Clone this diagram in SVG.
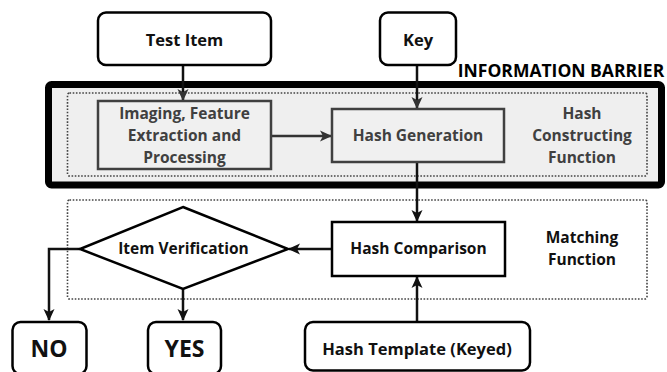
<svg xmlns="http://www.w3.org/2000/svg" width="667" height="372" viewBox="0 0 667 372">
<style>
text{font-family:"Open Sans","Liberation Sans",sans-serif;font-weight:bold;text-anchor:middle}
.term{fill:#fff;stroke:#000;stroke-width:2.5}
.blk{fill:#fff;stroke:#000;stroke-width:2.5}
.gbox{fill:#f0f0f0;stroke:#404040;stroke-width:2.5}
.dot{fill:none;stroke:#444;stroke-width:1.6;stroke-dasharray:1.6 1.6}
.t{fill:#111;font-size:15.5px}
.g{fill:#404040;font-size:15.5px}
.ln{fill:none;stroke:#111;stroke-width:2.5}
.lg{fill:none;stroke:#333;stroke-width:2.5}
</style>
<defs>
<marker id="ah" viewBox="0 0 12 12" refX="11" refY="6" markerWidth="12" markerHeight="12" markerUnits="userSpaceOnUse" orient="auto">
<path d="M0,0.5 L12,6 L0,11.5 L3,6 z" fill="#111"/>
</marker>
<marker id="ahg" viewBox="0 0 12 12" refX="11" refY="6" markerWidth="12" markerHeight="12" markerUnits="userSpaceOnUse" orient="auto">
<path d="M0,0.5 L12,6 L0,11.5 L3,6 z" fill="#333"/>
</marker>
</defs>
<g id="barrier">
<rect x="48.5" y="84.5" width="613" height="100.5" rx="3" fill="#efefef" stroke="#000" stroke-width="7"/>
<text x="561" y="77" style="font-size:17.5px" fill="#000">INFORMATION BARRIER</text>
</g>
<g id="hash-constructing">
<rect class="dot" x="67.5" y="93" width="579.5" height="83" rx="2"/>
<text class="g"><tspan x="582" y="119">Hash</tspan><tspan x="582" y="141">Constructing</tspan><tspan x="582" y="163">Function</tspan></text>
</g>
<g id="matching">
<rect class="dot" x="67.5" y="200" width="579.5" height="99" rx="2"/>
<text class="t"><tspan x="582" y="243">Matching</tspan><tspan x="582" y="265">Function</tspan></text>
</g>
<g id="connectors">
<line class="ln" x1="183" y1="65" x2="183" y2="100" marker-end="url(#ahg)"/>
<line class="ln" x1="417" y1="65" x2="417" y2="108" marker-end="url(#ahg)"/>
<line class="lg" x1="271" y1="136" x2="331" y2="136" marker-end="url(#ahg)"/>
<line class="ln" x1="417" y1="162" x2="417" y2="221" marker-end="url(#ah)"/>
<line class="ln" x1="332" y1="249" x2="289" y2="249" marker-end="url(#ah)"/>
<polyline class="ln" points="80,249 49,249 49,320" marker-end="url(#ah)"/>
<line class="ln" x1="183" y1="289" x2="183" y2="320" marker-end="url(#ah)"/>
<line class="ln" x1="417" y1="322" x2="417" y2="277" marker-end="url(#ah)"/>
</g>
<g id="test-item">
<rect class="term" x="98" y="12.5" width="173" height="52.5" rx="8"/>
<text class="t" x="184.5" y="46" style="font-size:16.5px">Test Item</text>
</g>
<g id="key">
<rect class="term" x="380" y="12.5" width="76" height="52.5" rx="8"/>
<text class="t" x="418" y="46" style="font-size:16.5px">Key</text>
</g>
<g id="imaging">
<rect class="gbox" x="98" y="101" width="173" height="68"/>
<text class="g"><tspan x="184.5" y="119">Imaging, Feature</tspan><tspan x="184.5" y="141">Extraction and</tspan><tspan x="184.5" y="163">Processing</tspan></text>
</g>
<g id="hash-generation">
<rect class="gbox" x="332" y="109" width="172" height="53"/>
<text class="g" x="418" y="141">Hash Generation</text>
</g>
<g id="hash-comparison">
<rect class="blk" x="332" y="222" width="173" height="54"/>
<text class="t" x="418.5" y="254">Hash Comparison</text>
</g>
<g id="item-verification">
<polygon class="blk" points="183,207 288,249 183,289 80,249"/>
<text class="t" x="183.5" y="254">Item Verification</text>
</g>
<g id="no">
<rect class="term" x="12.5" y="322" width="74" height="52" rx="8"/>
<text class="t" x="49" y="357" style="font-size:23px">NO</text>
</g>
<g id="yes">
<rect class="term" x="148" y="322" width="73" height="52" rx="8"/>
<text class="t" x="184.5" y="357" style="font-size:23px">YES</text>
</g>
<g id="hash-template">
<rect class="term" x="305" y="322" width="225" height="48.5" rx="8"/>
<text class="t" x="417" y="355" style="font-size:16.5px">Hash Template (Keyed)</text>
</g>
</svg>
